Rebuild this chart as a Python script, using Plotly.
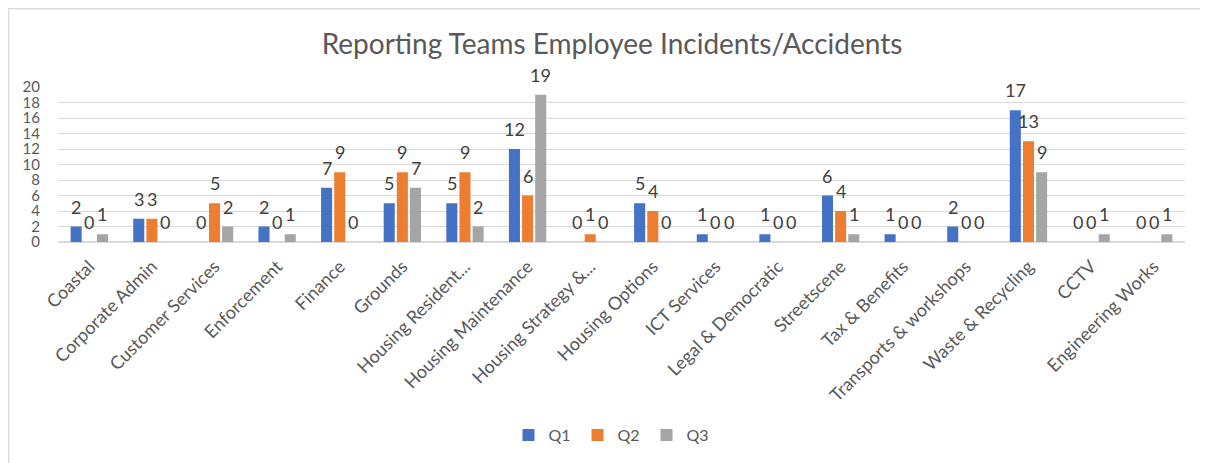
import plotly.graph_objects as go

categories = ["Coastal", "Corporate Admin", "Customer Services", "Enforcement", "Finance",
              "Grounds", "Housing Resident...", "Housing Maintenance", "Housing Strategy &...",
              "Housing Options", "ICT Services", "Legal & Democratic", "Streetscene",
              "Tax & Benefits", "Transports & workshops", "Waste & Recycling", "CCTV",
              "Engineering Works"]
q1 = [2, 3, 0, 2, 7, 5, 5, 12, 0, 5, 1, 1, 6, 1, 2, 17, 0, 0]
q2 = [0, 3, 5, 0, 9, 9, 9, 6, 1, 4, 0, 0, 4, 0, 0, 13, 0, 0]
q3 = [1, 0, 2, 1, 0, 7, 2, 19, 0, 0, 0, 0, 1, 0, 0, 9, 1, 1]
series_names = ["Q1", "Q2", "Q3"]
series_colors = ["#4472C4", "#ED7D31", "#A5A5A5"]
y_ticks = list(range(0, 21, 2))

FONT = "Lato, Liberation Sans, sans-serif"
TXT = "#595959"

# page body has an 8px offset, so the figure is 8px smaller than the window
OFF = 8
W, H = 1208 - OFF, 463 - OFF
ml, mr, mt, mb = 58 - OFF, 23, 87 - OFF, 221
pw = W - ml - mr
ph = H - mt - mb

BARGAP, GROUPGAP = 0.37, 0.16
n_series = len(series_names)
slot = (1 - BARGAP) / n_series          # fraction of a category per series
px_per_cat = pw / len(categories)

def px_x(x):
    return (x - ml) / pw

def px_y(y):
    return 1 - (y - mt) / ph

fig = go.Figure()
annotations = []
for i, (name, vals, col) in enumerate(zip(series_names, [q1, q2, q3], series_colors)):
    fig.add_trace(go.Bar(
        name=name, x=categories, y=vals, marker_color=col,
        marker_line_width=0,
    ))
    shift = (i - (n_series - 1) / 2) * slot * px_per_cat
    for c, v in zip(categories, vals):
        annotations.append(dict(
            x=c, y=v, xref="x", yref="y", text=str(v), showarrow=False,
            xshift=shift, yshift=20, xanchor="center", yanchor="middle",
            font=dict(size=18, color="#404040", family=FONT),
        ))

fig.update_layout(
    width=W, height=H,
    margin=dict(l=ml, r=mr, t=mt, b=mb, pad=0, autoexpand=False),
    paper_bgcolor="white", plot_bgcolor="white",
    font=dict(family=FONT, color=TXT),
    title=dict(text="Reporting Teams Employee Incidents/Accidents",
               x=(612 - OFF) / W, xanchor="center", y=1 - (44 - OFF) / H, yanchor="middle",
               font=dict(size=28, color=TXT, family=FONT)),
    barmode="group", bargap=BARGAP, bargroupgap=GROUPGAP,
    showlegend=True,
    legend=dict(orientation="h", x=px_x(612 - OFF), xanchor="center",
                y=px_y(435 - OFF), yanchor="middle",
                font=dict(size=16, color=TXT, family=FONT),
                itemwidth=30, entrywidth=24, entrywidthmode="pixels",
                traceorder="normal"),
    xaxis=dict(tickangle=-45, tickfont=dict(size=18, color=TXT, family=FONT),
               showgrid=False, showline=True, linecolor="#D9D9D9", linewidth=1,
               ticks="", automargin=False, ticklabelstandoff=6),
    yaxis=dict(range=[0, 20], tickvals=y_ticks, showgrid=True, gridcolor="#D9D9D9",
               gridwidth=1, zeroline=True, zerolinecolor="#D9D9D9",
               tickfont=dict(size=15, color=TXT, family=FONT), ticks="",
               showline=False, ticklabelstandoff=17, automargin=False),
    annotations=annotations,
    shapes=[dict(type="rect", xref="paper", yref="paper",
                 x0=px_x(0.5), x1=px_x(1400), y0=px_y(700), y1=px_y(0.5),
                 line=dict(color="#D9D9D9", width=1.5), fillcolor="rgba(0,0,0,0)",
                 layer="below")],
)

fig.write_html("out.html")
